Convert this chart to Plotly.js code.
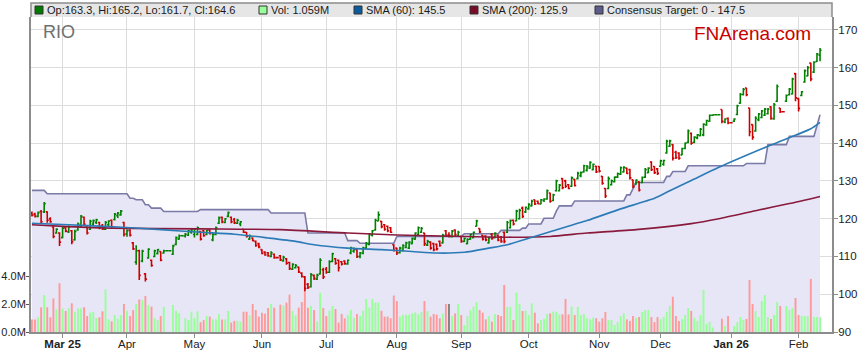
<!DOCTYPE html>
<html><head><meta charset="utf-8">
<script src="https://cdn.plot.ly/plotly-3.0.1.min.js"></script>
<style>html,body{margin:0;padding:0;background:#fff}#chart{width:859px;height:363px}</style>
</head><body><div id="chart"></div>
<script>
// ---- trading-day slots (weekdays; ASX holidays are kept as flat slots) ----
const firstDay = '2025-02-17', lastDay = '2026-02-11';
const dates = [];
(function(){ let t = Date.parse(firstDay+'T00:00:00Z'); const e = Date.parse(lastDay+'T00:00:00Z');
  while (t <= e) { const d = new Date(t); const w = d.getUTCDay(); if (w > 0 && w < 6) dates.push(d.toISOString().slice(0,10)); t += 86400000; } })();

const tickDates = ['2025-03-03','2025-04-01','2025-05-01','2025-06-02','2025-07-01','2025-08-01','2025-09-01','2025-10-01','2025-11-03','2025-12-01','2026-01-01','2026-02-02'];
const tickLabels = ['<b>Mar 25</b>','Apr','May','Jun','Jul','Aug','Sep','Oct','Nov','Dec','<b>Jan 26</b>','Feb'];

const open = [
121.5,121.2,120.6,121.9,121.8,121.8,120.0,117.8,116.2,116.2,
115.0,117.6,116.5,116.8,114.4,117.0,118.2,120.4,117.8,117.2,
118.6,119.0,119.0,118.2,117.2,118.4,119.6,119.8,120.8,121.0,
119.0,116.0,117.0,113.6,108.5,111.5,108.8,105.4,109.6,109.0,
110.0,110.8,111.3,110.9,111.5,111.5,110.6,113.2,114.6,115.5,
115.4,115.6,116.4,115.8,115.8,116.6,116.8,115.8,117.0,114.4,
115.8,118.8,120.4,119.0,120.6,120.4,119.8,118.8,118.6,117.2,
116.4,114.6,114.9,114.0,113.4,111.8,111.2,111.0,110.0,110.6,
109.7,110.2,108.8,109.4,108.4,106.6,107.0,107.2,105.6,104.6,
102.6,102.0,105.0,104.0,105.4,106.5,106.6,105.8,108.7,109.4,
109.0,108.6,108.8,108.0,110.9,111.4,111.8,110.0,110.8,112.2,
113.2,115.6,117.0,119.4,119.3,118.4,118.0,117.6,113.1,112.2,
111.0,111.6,112.4,112.2,113.4,114.6,115.8,116.4,116.2,113.0,
113.8,113.4,113.2,114.0,113.6,116.8,115.6,115.2,117.0,115.4,
115.3,114.0,113.4,114.6,115.0,118.0,117.4,115.6,115.4,113.6,
115.8,115.0,115.6,115.2,116.4,116.4,117.6,119.6,119.4,120.0,
122.8,121.8,122.6,123.4,125.0,124.6,123.9,124.8,125.2,126.8,
124.8,127.4,127.4,130.6,130.0,129.0,128.6,130.4,130.6,131.4,
132.4,132.8,133.4,133.0,133.9,133.8,131.2,128.0,128.0,129.0,
129.8,131.0,131.8,132.4,133.4,133.0,130.3,129.2,129.8,129.6,
131.0,132.2,135.0,133.8,133.2,133.9,134.4,137.4,139.2,139.6,
137.6,137.4,136.9,138.6,140.2,142.6,140.2,141.4,142.0,142.2,
144.8,145.8,147.4,147.5,147.5,148.9,145.6,146.6,145.4,145.8,
147.6,150.6,152.9,154.6,149.3,144.9,143.2,146.2,146.8,147.4,
147.8,149.6,146.4,151.1,149.3,148.3,151.1,152.8,153.0,158.4,
151.8,152.6,156.2,157.8,161.2,158.8,161.6,163.3];
const high = [
121.9,121.6,121.9,122.3,124.4,122.0,120.4,118.0,117.5,116.4,
117.9,118.0,118.2,117.0,117.1,119.0,121.0,120.6,118.0,119.7,
119.8,120.0,119.2,118.6,119.4,119.6,119.8,121.5,121.8,122.3,
119.2,117.2,117.2,113.8,113.0,111.8,111.8,105.6,112.2,109.2,
111.8,112.0,111.4,111.8,111.5,111.5,113.1,115.3,115.8,115.5,
116.2,117.0,117.3,117.5,117.9,116.8,117.0,117.1,117.2,116.2,
117.9,120.6,120.6,120.2,121.9,120.6,120.2,120.0,119.4,117.3,
116.5,115.8,115.0,114.2,113.6,111.9,111.4,111.2,111.4,110.8,
109.7,110.4,110.2,109.6,108.6,108.2,108.0,107.3,105.8,104.8,
103.0,105.6,105.2,105.4,109.5,107.0,107.2,109.0,111.0,109.6,
109.2,108.8,109.0,109.2,112.6,112.4,111.9,111.2,112.6,113.8,
116.2,117.0,120.0,121.9,119.4,118.6,118.2,117.8,113.2,112.3,
112.6,113.2,113.9,114.0,115.0,116.4,117.9,117.8,116.3,114.4,
114.0,113.6,113.4,114.2,116.0,117.0,116.4,117.0,117.2,116.8,
115.4,115.0,114.8,116.0,116.6,119.7,117.5,115.7,115.6,115.2,
116.2,116.4,115.8,115.4,116.6,119.4,119.8,119.8,122.4,122.6,
123.2,123.2,124.1,125.0,125.0,124.8,125.2,125.4,127.7,126.9,
126.6,130.3,129.2,130.8,130.3,129.2,131.2,130.5,132.4,132.5,
134.3,134.2,135.2,134.6,134.0,133.9,131.3,128.1,131.2,130.4,
131.2,132.2,133.8,133.9,133.5,133.2,130.4,130.4,129.9,131.2,
133.4,133.6,135.2,133.9,133.4,135.6,135.6,140.9,140.9,139.8,
138.0,137.6,138.8,140.2,143.6,142.8,141.8,142.4,144.0,145.3,
146.2,147.6,147.6,147.5,147.5,148.9,146.6,146.8,145.4,146.6,
150.2,153.3,154.6,154.7,149.4,145.0,147.1,148.0,148.8,149.3,
149.3,149.8,150.6,155.5,149.3,148.3,152.9,154.6,157.3,158.6,
152.0,153.8,159.5,160.4,161.3,161.7,163.9,165.2];
const low = [
120.6,120.3,120.4,118.6,121.5,118.9,118.9,114.8,116.0,112.8,
114.8,116.4,116.2,113.2,114.2,116.8,117.8,118.0,115.8,117.0,
118.2,118.6,117.2,117.0,117.0,118.0,117.5,119.5,120.2,120.8,
115.3,115.2,115.3,111.7,107.8,103.8,108.5,103.4,109.4,107.3,
109.8,110.5,108.7,110.7,111.5,111.5,110.4,113.0,114.4,115.5,
115.0,115.4,116.0,115.0,115.6,114.2,115.2,115.6,115.8,114.0,
115.6,118.6,118.8,118.8,120.4,118.8,118.6,118.6,118.0,116.2,
115.0,114.4,114.0,112.6,112.2,110.6,110.2,109.9,109.8,109.4,
109.7,108.8,108.6,107.8,106.4,106.4,106.8,105.6,104.4,100.8,
101.4,101.8,103.8,103.8,105.2,104.0,105.4,105.6,108.5,107.8,
106.0,107.6,107.8,107.8,110.6,111.0,109.6,109.5,110.6,112.0,
113.0,115.3,116.8,119.3,117.5,116.8,116.4,116.2,111.3,110.4,
110.8,111.3,112.2,112.0,113.2,114.4,115.7,116.2,112.8,112.8,
111.8,111.4,111.6,112.6,113.4,115.2,115.0,115.0,115.4,115.2,
113.6,113.8,113.2,114.4,114.8,117.9,116.2,114.2,114.0,113.4,
114.4,114.8,114.0,113.6,113.5,116.2,117.4,118.2,119.3,119.8,
120.2,121.5,122.4,123.2,123.6,123.8,123.8,124.4,125.0,124.2,
124.6,127.2,127.2,127.8,128.1,127.8,128.4,128.5,130.4,131.0,
132.2,132.5,133.2,132.8,132.1,132.2,129.0,125.5,127.8,128.8,
129.6,130.8,131.6,132.2,131.8,130.4,128.1,129.0,127.2,129.4,
130.8,132.0,132.6,131.8,131.6,133.8,134.0,137.2,139.0,135.4,
135.8,135.6,136.8,138.4,140.0,139.6,140.0,141.0,141.8,141.8,
144.6,145.6,147.2,147.5,147.5,145.3,145.3,145.0,145.4,145.6,
147.4,150.4,152.6,152.4,141.8,140.9,143.0,145.8,146.6,147.2,
147.6,146.2,146.2,150.9,148.0,148.3,150.9,152.6,152.9,151.1,
148.4,152.4,156.0,157.7,156.4,158.6,161.5,161.7];
const close = [
120.9,120.6,121.6,119.2,124.0,119.6,119.2,115.3,117.2,113.8,
117.5,116.7,117.8,113.9,116.6,118.6,120.6,118.5,116.2,119.3,
119.5,119.7,117.6,117.3,119.0,119.4,117.8,121.2,121.5,122.0,
115.8,116.8,115.6,112.0,111.5,105.0,111.4,104.0,111.9,107.6,
111.5,111.8,109.0,111.5,111.5,111.5,112.8,115.0,115.5,115.5,
115.9,116.8,117.0,117.2,117.6,114.6,115.5,116.9,116.0,115.8,
117.6,120.2,119.2,120.0,121.6,119.2,118.9,119.6,119.2,116.4,
115.3,115.4,114.2,112.9,112.5,110.8,110.4,110.2,111.0,109.7,
109.7,109.1,109.8,108.2,106.8,107.9,107.6,105.9,104.7,101.6,
101.8,105.2,104.2,105.0,109.0,104.6,105.8,108.6,110.7,108.2,
107.0,108.0,108.1,109.0,112.3,112.0,110.0,111.0,112.2,113.4,
115.8,116.8,119.6,121.0,117.9,117.2,116.8,116.4,111.6,110.9,
112.2,112.9,113.6,113.8,114.8,116.2,117.6,117.4,113.4,114.0,
112.2,111.8,112.0,112.9,115.6,115.6,115.6,116.7,115.8,116.4,
114.0,114.8,114.5,115.8,116.4,119.4,116.5,114.6,114.4,114.9,
114.8,116.1,114.3,114.0,114.0,119.0,119.5,118.6,122.0,122.2,
120.6,123.0,123.8,124.6,123.9,124.0,125.0,125.2,127.4,124.6,
126.3,130.0,128.9,128.2,128.6,128.0,130.8,128.8,132.0,132.2,
134.0,133.8,134.9,134.4,132.4,132.6,129.4,126.0,130.6,130.0,
131.0,131.9,133.5,133.6,132.0,130.8,128.5,130.2,127.6,130.9,
133.0,133.4,133.0,132.2,132.0,135.3,135.4,140.5,140.6,136.0,
136.2,136.0,138.6,140.0,143.2,140.0,141.6,142.2,143.7,145.0,
146.0,147.4,147.5,147.5,147.5,145.8,146.4,145.4,145.4,146.4,
149.9,152.9,154.2,152.8,143.0,141.6,146.6,147.7,148.5,149.0,
149.0,146.6,150.2,155.0,148.3,148.3,152.6,154.3,157.0,152.0,
149.2,153.6,159.2,160.0,157.0,161.4,163.6,164.6];
// volume in millions (null = market holiday)
const volume = [
0.9,0.9,1.05,1.76,2.64,1.76,1.05,2.4,1.62,3.48,
1.69,1.5,1.69,2.05,1.45,1.69,1.69,1.76,1.14,1.38,
1.43,1.0,1.05,1.48,3.05,0.9,0.76,1.21,0.95,1.21,
2.0,1.52,1.14,1.57,2.0,2.33,2.29,2.57,1.93,1.81,
0.98,0.86,1.14,1.79,null,null,1.93,1.52,1.33,null,
1.0,0.86,1.45,1.0,1.48,0.7,0.85,1.14,1.1,0.9,
0.9,1.29,0.9,0.9,1.5,0.67,0.8,0.8,0.74,1.45,
1.45,1.2,2.0,1.57,1.1,1.38,1.31,1.71,2.0,1.74,
null,1.95,1.88,2.1,2.67,1.5,1.2,1.74,2.14,3.95,
1.74,1.86,1.57,0.74,2.81,1.71,1.14,1.52,1.86,1.64,
0.67,1.29,0.98,1.21,1.57,1.02,1.29,1.14,1.52,2.36,
1.74,2.36,2.1,2.1,1.52,1.1,1.1,0.98,2.6,2.21,
1.1,1.24,1.24,1.24,1.33,1.4,1.26,1.45,2.21,1.5,
1.1,1.29,1.24,0.98,1.33,2.0,2.0,1.14,1.33,2.0,
1.21,0.5,1.14,1.57,1.81,2.14,1.57,1.38,0.9,1.14,
0.74,1.29,1.21,1.14,3.36,1.79,1.79,0.86,2.81,2.0,
1.5,1.52,1.21,2.05,1.38,0.62,0.86,0.95,1.29,1.33,
1.45,1.45,1.26,1.26,2.36,1.26,1.81,1.21,1.79,1.21,
1.29,0.98,0.9,1.02,0.98,0.74,0.98,1.43,0.86,0.86,
0.5,0.71,1.14,1.33,0.9,0.79,1.14,1.02,1.07,1.43,
1.57,1.57,1.07,0.71,1.07,0.93,1.07,1.45,1.86,2.52,
1.14,0.79,0.93,1.21,1.71,1.5,1.02,0.79,1.21,3.0,
0.57,0.71,0.33,null,null,0.95,0.43,1.14,null,0.43,
0.71,1.07,0.86,0.93,3.71,2.0,1.5,1.07,2.21,2.64,
1.07,0.93,1.21,2.14,1.86,null,1.86,1.57,1.71,2.43,
1.21,1.14,1.14,1.14,3.79,1.07,1.07,1.059];

// moving averages (slot index -> value)
const sma60Idx = [0,12,28,42,55,66,77,86,92,103,114,124,132,141,149,155,162,170,181,192,203,208,215,224,241,254,257];
const sma60Val = [118.8,118.4,117.8,117.1,116.4,115.9,114.9,114.0,113.1,112.2,111.8,111.3,110.9,111.1,112.2,113.1,114.8,116.8,119.5,122.6,125.4,127.4,130.1,133.6,139.5,143.8,145.5];
const sma200Idx = [0,12,26,55,81,103,119,141,157,169,181,197,215,224,237,247,257];
const sma200Val = [118.4,117.9,117.5,117.3,117.1,116.2,115.7,115.3,115.1,115.3,116.2,117.1,118.7,120.0,122.3,124.0,125.9];

// consensus target levels: start slot, end slot, value
const targetStart = [0,5,32,34,37,39,43,55,78,90,103,107,119,141,153,160,162,167,171,172,177,194,196,197,207,209,214,233,240,247,256,257];
const targetEnd   = [4,31,33,36,38,42,54,77,89,102,106,118,140,152,159,161,166,170,171,176,193,195,196,206,208,213,232,239,246,255,256,257];
const targetVal   = [127.5,126.6,125.4,125.0,123.7,122.8,121.9,122.4,121.5,116.2,114.2,113.5,115.3,116.0,116.9,117.5,118.6,120.1,122.0,123.4,124.7,126.3,128.1,129.6,131.2,132.5,134.0,134.6,139.6,141.8,144.5,147.5];

const priceTicks = [90,100,110,120,130,140,150,160,170];
const volTicks = [0,2,4];
const volTickText = ['0.0M','2.0M','4.0M'];

// ---- build traces ----
const tX = [], tY = [];
targetStart.forEach((s,k)=>{ tX.push(dates[s]); tY.push(targetVal[k]); if (targetEnd[k]!==s){ tX.push(dates[targetEnd[k]]); tY.push(targetVal[k]); } });

const volColors = open.map((o,i)=> close[i]>o ? '#99ff99' : (close[i]<o ? '#ff9999' : '#808080'));

const F = 'Liberation Sans, Arial, sans-serif';
const data = [
  {type:'scatter', mode:'lines', x:tX, y:tY, yaxis:'y', line:{color:'#7a7aa6', width:1.6}, fill:'tozeroy', fillcolor:'#e6e6f7', hoverinfo:'skip'},
  {type:'bar', x:dates, y:volume, yaxis:'y2', marker:{color:volColors, line:{width:0}}, width:0.62, hoverinfo:'skip'},
  {type:'scatter', mode:'lines', x:sma200Idx.map(i=>dates[i]), y:sma200Val, yaxis:'y3', line:{color:'#8a1a3c', width:1.6, shape:'spline', smoothing:0.6}},
  {type:'scatter', mode:'lines', x:sma60Idx.map(i=>dates[i]), y:sma60Val, yaxis:'y3', line:{color:'#2c7bb6', width:1.6, shape:'spline', smoothing:0.6}},
  {type:'ohlc', x:dates, open:open, high:high, low:low, close:close, yaxis:'y3', tickwidth:0.5,
   increasing:{line:{color:'#008000', width:1.6}}, decreasing:{line:{color:'#cc0000', width:1.6}}, hoverinfo:'skip'}
];

const L=31, R=832, T=17, B=332;
const px = p => (p-L)/(R-L), py = p => (B-p)/(B-T);

const legendItems = [
  {sq:35, tx:45, col:'#007a00', text:'Op:163.3, Hi:165.2, Lo:161.7, Cl:164.6'},
  {sq:259, tx:269, col:'#99ff99', text:'Vol: 1.059M'},
  {sq:354, tx:364, col:'#0b5c9c', text:'SMA (60): 145.5'},
  {sq:470, tx:480, col:'#7a0a26', text:'SMA (200): 125.9'},
  {sq:595, tx:605, col:'#5c5c8c', text:'Consensus Target: 0 - 147.5'}
];
const shapes = [
  {type:'rect', xref:'paper', yref:'paper', x0:0, x1:1, y0:1, y1:py(3), fillcolor:'#e6e6e6', line:{width:0}},
  {type:'path', xref:'paper', yref:'paper', path:`M 0 1 L 0 ${py(3)} L 1 ${py(3)} L 1 1`, line:{color:'#8c8c8c', width:1.5}}
];
const annotations = [
  {xref:'paper', yref:'paper', x:px(41), y:py(32), xanchor:'left', yanchor:'middle', showarrow:false, text:'RIO', font:{family:F, size:18, color:'#707070'}},
  {xref:'paper', yref:'paper', x:px(692), y:py(33), xanchor:'left', yanchor:'middle', showarrow:false, text:'FNArena.com', font:{family:F, size:19, color:'#c80000'}}
];
legendItems.forEach(it=>{
  shapes.push({type:'rect', xref:'paper', yref:'paper', x0:px(it.sq), x1:px(it.sq+8), y0:py(14), y1:py(6), fillcolor:it.col, line:{color:'#333', width:1}});
  annotations.push({xref:'paper', yref:'paper', x:px(it.tx), y:py(10), xanchor:'left', yanchor:'middle', showarrow:false, text:it.text, font:{family:F, size:11, color:'#1a1a1a'}});
});

const layout = {
  width:859, height:363, margin:{l:L, r:859-R, t:T, b:363-B, pad:0},
  paper_bgcolor:'#ffffff', plot_bgcolor:'#ffffff', showlegend:false, hovermode:false,
  font:{family:F, size:11.5, color:'#222'},
  xaxis:{type:'category', categoryorder:'array', categoryarray:dates, range:[-0.3, 260.9],
    tickmode:'array', tickvals:tickDates, ticktext:tickLabels, ticks:'outside', ticklen:4, tickcolor:'#8c8c8c',
    ticklabelstandoff:-4,
    showgrid:true, gridcolor:'#dcdcdc', gridwidth:1, showline:true, linecolor:'#8c8c8c', linewidth:2,
    rangeslider:{visible:false}, tickfont:{family:F, size:11.5, color:'#222'}, fixedrange:true},
  yaxis:{range:[90,173.4], side:'right', tickmode:'array', tickvals:priceTicks, ticks:'outside', ticklen:4, tickcolor:'#8c8c8c',
    ticklabelstandoff:-2,
    showgrid:true, gridcolor:'#dcdcdc', gridwidth:1, showline:true, linecolor:'#8c8c8c', linewidth:2, zeroline:false,
    tickfont:{family:F, size:11.5, color:'#222'}, fixedrange:true},
  yaxis2:{overlaying:'y', side:'left', range:[0,22.5], tickmode:'array', tickvals:volTicks, ticktext:volTickText,
    ticks:'outside', ticklen:3, tickcolor:'#555', ticklabelstandoff:-2, showgrid:false, zeroline:false, showline:true, linecolor:'#8c8c8c', linewidth:2,
    tickfont:{family:F, size:11, color:'#222'}, fixedrange:true},
  yaxis3:{overlaying:'y', range:[90,173.4], visible:false, showgrid:false, zeroline:false, fixedrange:true},
  shapes:shapes, annotations:annotations
};
Plotly.newPlot('chart', data, layout, {staticPlot:true, displayModeBar:false});
</script></body></html>
